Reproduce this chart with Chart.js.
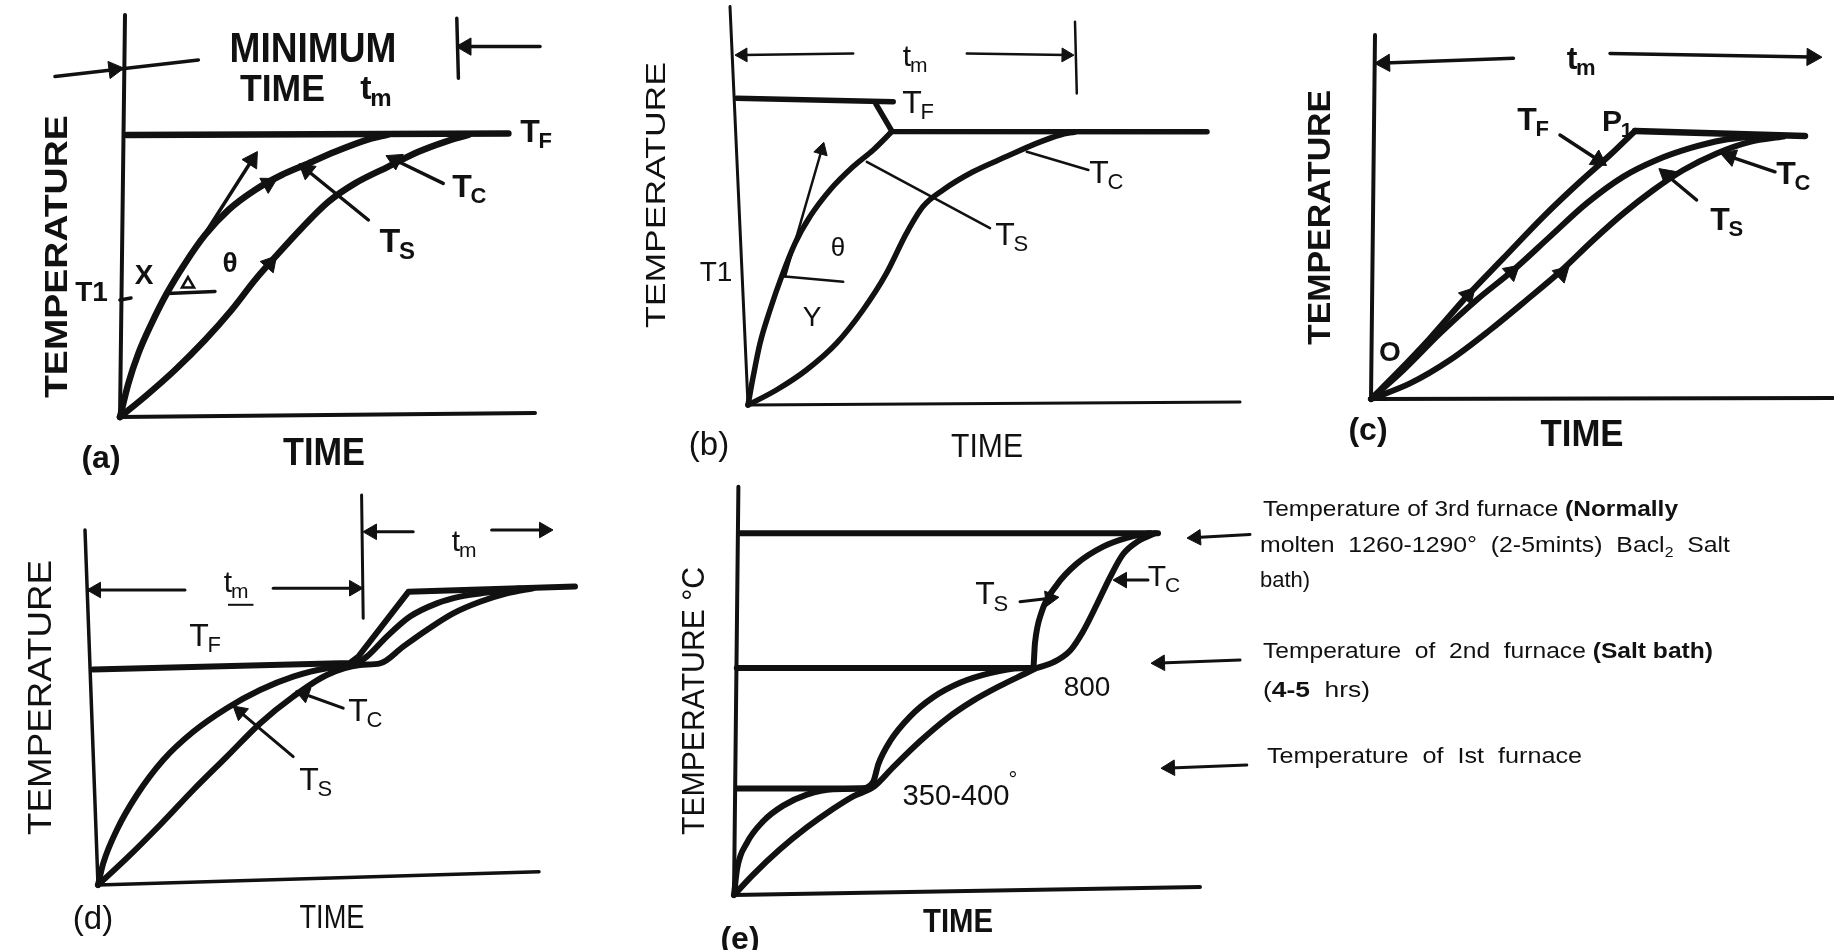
<!DOCTYPE html>
<html>
<head>
<meta charset="utf-8">
<script src="https://cdn.jsdelivr.net/npm/chart.js@4.4.1/dist/chart.umd.min.js"></script>
<style>
  html, body { margin: 0; background: #fff; }
  #sheet { position: relative; width: 1834px; height: 950px; overflow: hidden; background: #fff; }
  #sheet canvas { position: absolute; left: 0; top: 0; }
</style>
</head>
<body>
<div id="sheet"></div>
<script>
// (a) one furnace: surface and core heat up to TF
const aAxes = [[1.25, 100.5], [0, 0], [103.75, 1]];
const aFurnace = [[1.7, 70.5], [97.1, 70.9]];
const aSurface = [[0, 0], [2.1, 8.4], [4.6, 15.9], [7.9, 23.4], [11.7, 30.9], [16.25, 38.4], [21.25, 45.5], [27.1, 51.75], [33.75, 56.75], [40.4, 60.5], [47.1, 63.4], [53.75, 66.3], [62.1, 69.4], [67, 70.6]];
const aCore = [[0, 0], [6.25, 5.1], [13.75, 11.75], [21.25, 19.25], [27.9, 26.75], [33.75, 34.25], [39.6, 40.9], [45.4, 47.2], [52.1, 53.8], [58.75, 58.4], [67.1, 62.6], [74.6, 66.3], [81.25, 68.8], [87.1, 70.5]];
const aArrows = [[[11.7, 30.9], [33, 64.25]], [[62.1, 49.25], [46.7, 61.75]], [[80.8, 58.4], [68.75, 64.25]], [[105, 92.6], [86.5, 92.6]]];
const aGuides = [[[-16.25, 85.1], [19.6, 89.25]], [[84.2, 99.7], [84.6, 84.7]], [[11.7, 30.9], [23.75, 31.4]], [[0, 29.25], [2.75, 29.75]]];
const aHeads = [[37.1, 58.4, 61], [37.5, 38.4, 41], [-1.5, 86.9, 83]];
const aAngleMark = [[17, 33.25]];

// (b) furnace dropped from a higher setting
const bAxes = [[-4.5, 99.6], [0, 0], [123, 0.75]];
const bFurnaceHigh = [[-2.8, 76.7], [36.3, 75.8]];
const bFurnaceLow = [[32, 75.2], [36, 68.4], [114.75, 68.3]];
const bSurface = [[0, 0], [1.3, 7.1], [3, 15.4], [5.5, 23.75], [8.4, 32.1], [11.75, 40.4], [15.5, 47.1], [20.5, 53.75], [26.3, 59.6], [31.3, 63.75], [35.9, 68.3]];
const bCore = [[0, 0], [7.1, 3.75], [14.6, 8.75], [22.1, 15.4], [28.75, 23.75], [34.6, 32.9], [39.6, 42.9], [43.75, 49.6], [48.75, 53.75], [56.25, 58.3], [64.6, 62.1], [72.1, 65.4], [78, 67.5], [81.75, 68.25]];
const bArrows = [[[9.25, 32.1], [18.4, 63.75]], [[26.3, 87.9], [-1.25, 87.5]], [[54.7, 87.9], [79.5, 87.5]]];
const bGuides = [[[9.25, 32.1], [23.8, 30.8]], [[60.5, 44.2], [29.7, 60.8]], [[85.1, 58.75], [69.7, 63.3]], [[81.75, 95.8], [82.2, 77.9]]];

// (c) furnace ramped with the charge
const cAxes = [[1, 91], [0, 0], [115.5, 0.25]];
const cFurnaceRamp = [[0, 0], [6.4, 6.4], [14.75, 15.2], [23.9, 25.6], [33.1, 35.2], [43.1, 45.6], [52.25, 54.3], [59.75, 61], [66, 67]];
const cFurnaceHold = [[66, 67], [108.5, 65.75]];
const cSurface = [[0, 0], [8.1, 7.25], [17.25, 16.4], [26.4, 24.75], [35.6, 32.25], [44.75, 40.6], [53.9, 48.9], [63.1, 55.6], [71.4, 59.75], [79.75, 62.7], [88.1, 64.75], [96.4, 65.75]];
const cCore = [[0, 0], [9.75, 3.9], [19.75, 9.75], [29.75, 17.25], [38.9, 24.75], [47.25, 31.8], [55.6, 39.75], [63.1, 46.4], [70.6, 52.25], [78.1, 57.25], [86.4, 61.4], [94.75, 64.3], [103.1, 65.6]];
const cArrows = [[[47.25, 66], [56.8, 59.75]], [[81.4, 49.75], [73.9, 56]], [[101, 56.8], [89.75, 60.6]], [[35.6, 85.2], [3.4, 84]], [[59.75, 86.4], [110.25, 85.5]]];
const cHeads = [[24.3, 26, 42], [35.2, 31.8, 49], [47.7, 31.4, 46]];

// (d) preheat then second stage
const dAxes = [[-3.25, 88.75], [0, 0], [110.25, 3.3]];
const dFurnace = [[-1.2, 53.9], [63, 55.5], [65, 57], [77.6, 73.3], [119.25, 74.6]];
const dSurface = [[0, 0], [1.3, 5.4], [4.7, 13.75], [9.7, 22.5], [16.3, 31.25], [23.8, 38.3], [32.2, 44.2], [40.5, 48.75], [48.8, 52.1], [57.2, 54.2], [63.8, 55], [67.2, 57.1], [72.2, 62.1], [78, 67.1], [84.7, 70.4], [90.5, 72.1], [97.2, 73.1], [105.5, 74.1]];
const dCore = [[0, 0], [7.2, 6.7], [15.5, 15], [23.8, 23.75], [32.2, 32.1], [40.5, 40.4], [48.8, 47.1], [57.2, 52.5], [65.5, 55], [70.5, 55.4], [76.3, 59.6], [82.2, 63.75], [88.8, 67.9], [95.5, 70.8], [102.2, 72.9], [108.8, 74.2]];
const dArrows = [[[61.3, 44.2], [51.5, 47.75]], [[48.8, 32.1], [35.5, 43.3]], [[21.75, 73.75], [-0.5, 73.75]], [[43.8, 74.2], [64, 74.2]], [[78.8, 88.3], [68.5, 88.3]], [[98.4, 88.75], [111.5, 88.75]]];
const dGuides = [[[65.9, 97.5], [66.3, 66.7]]];

// (e) three furnaces, temperature in °C
const eAxes = [[1.1, 1439], [0, 0], [116.5, 28]];
const eFurnace1 = [[0.7, 375], [34, 375]];
const eFurnace2 = [[0.7, 800], [74.8, 800]];
const eFurnace3 = [[1.5, 1275], [106, 1275]];
const eSurface = [[0, 0], [0.8, 94], [3.2, 183], [7.3, 260], [12.3, 315], [18.2, 354], [24.8, 373], [31.5, 375], [34.8, 399], [36.1, 462], [39, 542], [44, 629], [49.8, 697], [56.5, 748], [64, 782], [71.5, 799], [74.8, 800], [75.25, 889], [76.9, 997], [80.7, 1093], [85.7, 1168], [92.3, 1228], [98.2, 1259], [104, 1275]];
const eCore = [[0, 0], [4.8, 72], [11.5, 161], [18.2, 238], [24.8, 304], [29.8, 348], [34.8, 380], [39.8, 451], [46.5, 542], [53.2, 622], [59.8, 685], [66.5, 737], [72.3, 777], [75.7, 800], [79.8, 820], [84, 861], [87.3, 930], [90.7, 1024], [94, 1120], [97.3, 1202], [101, 1247], [105.25, 1275]];
const eArrows = [[[71.5, 1034], [79, 1046]], [[103.5, 1110], [97, 1110]], [[129, 1271], [115.5, 1260]], [[126.5, 828], [106.5, 818]], [[128.2, 458], [109, 448]]];

const aText = [
  {text: 'MINIMUM', x: 48.25, y: 92.5, size: 42, bold: 1, w: 167},
  {text: 'TIME', x: 40.6, y: 82.25, size: 36, bold: 1, w: 85},
  {text: 't', sub: 'm', x: 61.5, y: 82.5, size: 34, bold: 1},
  {text: 'T', sub: 'F', x: 102.5, y: 71.75, size: 32, bold: 1},
  {text: 'T', sub: 'S', x: 67.5, y: 44.25, size: 34, bold: 1},
  {text: 'T', sub: 'C', x: 85.5, y: 58, size: 32, bold: 1},
  {text: 'θ', x: 27.5, y: 38.75, size: 28, bold: 1},
  {text: 'X', x: 6, y: 35.75, size: 28, bold: 1},
  {text: 'T1', x: -7.1, y: 31.5, size: 28, bold: 1},
  {text: 'TEMPERATURE', x: -16.25, y: 40.1, size: 32, bold: 1, w: 283, rot: -90},
  {text: 'TIME', x: 51, y: -8.5, size: 38, bold: 1, w: 82},
  {text: '(a)', x: -4.75, y: -9.75, size: 32, bold: 1}
];
const bText = [
  {text: 't', sub: 'm', x: 39.75, y: 87.5, size: 30},
  {text: 'T', sub: 'F', x: 41, y: 76, size: 32},
  {text: 'T', sub: 'S', x: 64.25, y: 43, size: 32},
  {text: 'T', sub: 'C', x: 87.75, y: 58.5, size: 32},
  {text: 'θ', x: 22.5, y: 39.5, size: 26},
  {text: 'Y', x: 16, y: 22.25, size: 28},
  {text: 'T1', x: -8, y: 33.5, size: 28},
  {text: 'TEMPERATURE', x: -23.25, y: 52.5, size: 28, w: 266, rot: -90},
  {text: 'TIME', x: 59.75, y: -10, size: 33, w: 72},
  {text: '(b)', x: -9.75, y: -9.5, size: 33}
];
const cText = [
  {text: 't', sub: 'm', x: 50.25, y: 85.5, size: 32, bold: 1},
  {text: 'T', sub: 'F', x: 39, y: 70.25, size: 32, bold: 1},
  {text: 'P', sub: '1', x: 60.25, y: 69.75, size: 30, bold: 1},
  {text: 'T', sub: 'S', x: 87.25, y: 45.25, size: 32, bold: 1},
  {text: 'T', sub: 'C', x: 103.75, y: 56.75, size: 32, bold: 1},
  {text: 'O', x: 4.75, y: 12, size: 28, bold: 1},
  {text: 'TEMPERATURE', x: -13.1, y: 45.4, size: 32, bold: 1, w: 255, rot: -90},
  {text: 'TIME', x: 52.75, y: -8.5, size: 37, bold: 1, w: 83},
  {text: '(c)', x: -0.75, y: -7.25, size: 32, bold: 1}
];
const dText = [
  {text: 't', sub: 'm', x: 32.5, y: 76, size: 30, under: 1},
  {text: 't', sub: 'm', x: 89.5, y: 86.25, size: 30},
  {text: 'T', sub: 'F', x: 25.25, y: 62.75, size: 32},
  {text: 'T', sub: 'C', x: 65, y: 44, size: 32},
  {text: 'T', sub: 'S', x: 52.75, y: 26.75, size: 32},
  {text: 'TEMPERATURE', x: -14.75, y: 46.9, size: 33, w: 275, rot: -90},
  {text: 'TIME', x: 58.5, y: -7.75, size: 33, w: 65},
  {text: '(d)', x: -1.25, y: -8, size: 33}
];
const eText = [
  {text: 'T', sub: 'S', x: 62.75, y: 1065, size: 32},
  {text: 'T', sub: 'C', x: 105.75, y: 1127, size: 30},
  {text: '800', x: 88.25, y: 738, size: 28},
  {text: '350-400', x: 55.5, y: 353, size: 29, w: 107},
  {text: '°', x: 69.75, y: 409, size: 22},
  {text: 'TEMPERATURE °C', x: -10.5, y: 684, size: 32, w: 268, rot: -90},
  {text: 'TIME', x: 56, y: -88, size: 34, bold: 1, w: 70},
  {text: '(e)', x: 1.5, y: -148, size: 32, bold: 1},
  {parts: [['Temperature of 3rd furnace ', 0], ['(Normally', 1]], x: 132.25, y: 1336, size: 22, w: 415, left: 1},
  {parts: [['molten  1260-1290°  (2-5mints)  Bacl', 0], ['2', 0, 1], ['  Salt', 0]], x: 131.5, y: 1210, size: 22, w: 470, left: 1},
  {parts: [['bath)', 0]], x: 131.5, y: 1087, size: 22, left: 1},
  {parts: [['Temperature  of  2nd  furnace ', 0], ['(Salt bath)', 1]], x: 132.25, y: 834, size: 22, w: 450, left: 1},
  {parts: [['(', 0], ['4-5', 1], ['  hrs)', 0]], x: 132.25, y: 699, size: 22, w: 107, left: 1},
  {parts: [['Temperature  of  Ist  furnace', 0]], x: 133.25, y: 464, size: 22, w: 315, left: 1}
];

const W = 1834, H = 950;
const INK = '#111';
const FONT = '"Liberation Sans", Arial, Helvetica, sans-serif';
const font = (size, bold) => `${bold ? 'bold ' : ''}${size}px ${FONT}`;

const panels = [
  {origin: [120, 417], scale: [4, 4], xr: [-20, 110], yr: [0, 95], labels: aText,
    style: {axis: 4, curve: 6.5, hold: 6.5, thin: 3.5, head: 10},
    sets: [[aAxes, 'axis'], [aFurnace, 'hold'], [aSurface, 'curve'], [aCore, 'curve'],
      ...aArrows.map(l => [l, 'arrow']), ...aGuides.map(l => [l, 'guide']), [aHeads, 'head'], [aAngleMark, 'hollow']]},
  {origin: [748, 405], scale: [4, 4], xr: [-10, 125], yr: [0, 95], labels: bText,
    style: {axis: 3, curve: 5.5, hold: 5.5, thin: 2.5, head: 8},
    sets: [[bAxes, 'axis'], [bFurnaceHigh, 'hold'], [bFurnaceLow, 'hold'], [bSurface, 'curve'], [bCore, 'curve'],
      ...bArrows.map(l => [l, 'arrow']), ...bGuides.map(l => [l, 'guide'])]},
  {origin: [1371, 399], scale: [4, 4], xr: [-10, 115.5], yr: [0, 95], labels: cText,
    style: {axis: 4, curve: 6, hold: 6.5, thin: 3.5, head: 10},
    sets: [[cAxes, 'axis'], [cFurnaceRamp, 'curve'], [cFurnaceHold, 'hold'], [cSurface, 'curve'], [cCore, 'curve'],
      ...cArrows.map(l => [l, 'arrow']), [cHeads, 'head']]},
  {origin: [98, 885], scale: [4, 4], xr: [-10, 125], yr: [0, 95], labels: dText,
    style: {axis: 3.5, curve: 6, hold: 6, thin: 3, head: 9},
    sets: [[dAxes, 'axis'], [dFurnace, 'hold'], [dSurface, 'curve'], [dCore, 'curve'],
      ...dArrows.map(l => [l, 'arrow']), ...dGuides.map(l => [l, 'guide'])]},
  {origin: [734, 895], scale: [4, 1 / 3.525], xr: [-10, 135], yr: [0, 1400], labels: eText,
    style: {axis: 4, curve: 6, hold: 6, thin: 3, head: 9},
    sets: [[eAxes, 'axis'], [eFurnace1, 'hold'], [eFurnace2, 'hold'], [eFurnace3, 'hold'], [eSurface, 'curve'], [eCore, 'curve'],
      ...eArrows.map(l => [l, 'arrow'])]}
];

function headAngle(c) {
  const d = c.dataset.data, n = d.length;
  const {x, y} = c.chart.scales;
  const dx = x.getPixelForValue(d[n - 1].x) - x.getPixelForValue(d[n - 2].x);
  const dy = y.getPixelForValue(d[n - 1].y) - y.getPixelForValue(d[n - 2].y);
  return Math.atan2(dx, -dy) * 180 / Math.PI;
}

function dataset(points, kind, st) {
  const data = points.map(([x, y]) => ({x, y}));
  const base = {
    data, borderColor: INK, backgroundColor: INK, pointBackgroundColor: INK, pointBorderColor: INK,
    clip: false, tension: 0, pointRadius: 0, borderCapStyle: 'round', borderJoinStyle: 'round'
  };
  switch (kind) {
    case 'curve': return {...base, borderWidth: st.curve, cubicInterpolationMode: 'monotone', capBezierPoints: false};
    case 'axis': return {...base, borderWidth: st.axis};
    case 'hold': return {...base, borderWidth: st.hold};
    case 'guide': return {...base, borderWidth: st.thin};
    case 'arrow':
      return {...base, borderWidth: st.thin, pointStyle: 'triangle', pointBorderWidth: 1,
        pointRadius: c => (c.dataIndex === data.length - 1 ? st.head : 0), pointRotation: headAngle};
    case 'head':
      return {...base, showLine: false, pointStyle: 'triangle', pointBorderWidth: 1,
        pointRadius: st.head, pointRotation: c => points[c.dataIndex][2]};
    default:
      return {...base, showLine: false, pointStyle: 'triangle', pointRadius: 7,
        pointBackgroundColor: '#fff', pointBorderWidth: 2.5};
  }
}

function drawLabels(chart, items) {
  const {ctx} = chart, {x, y} = chart.scales;
  items.forEach(L => {
    ctx.save();
    ctx.translate(x.getPixelForValue(L.x), y.getPixelForValue(L.y));
    if (L.rot) ctx.rotate(L.rot * Math.PI / 180);
    ctx.fillStyle = INK;
    ctx.textAlign = 'left';
    ctx.textBaseline = 'alphabetic';
    const mid = L.left ? 0 : L.size * 0.36;
    if (L.sub) {
      ctx.font = font(L.size, L.bold);
      const w = ctx.measureText(L.text).width;
      ctx.fillText(L.text, -w / 2, mid);
      const s = Math.round(L.size * 0.7), sx = w / 2 - L.size * 0.04, sy = mid + L.size * 0.2;
      ctx.font = font(s, L.bold);
      const sw = ctx.measureText(L.sub).width;
      ctx.fillText(L.sub, sx, sy);
      if (L.under) ctx.fillRect(sx - 3, sy + 6, sw + 8, 2);
    } else {
      const parts = L.parts || [[L.text, L.bold]];
      const sizeOf = p => (p[2] ? Math.round(L.size * 0.65) : L.size);
      const widths = parts.map(p => { ctx.font = font(sizeOf(p), p[1]); return ctx.measureText(p[0]).width; });
      const total = widths.reduce((a, b) => a + b, 0);
      if (L.w) ctx.scale(L.w / total, 1);
      let cx = L.left ? 0 : -total / 2;
      parts.forEach((p, i) => {
        ctx.font = font(sizeOf(p), p[1]);
        ctx.fillText(p[0], cx, mid + (p[2] ? L.size * 0.25 : 0));
        cx += widths[i];
      });
    }
    ctx.restore();
  });
}

const sheet = document.getElementById('sheet');
panels.forEach(p => {
  const canvas = document.createElement('canvas');
  canvas.width = W;
  canvas.height = H;
  sheet.appendChild(canvas);
  const [ox, oy] = p.origin, [kx, ky] = p.scale;
  const left = ox + kx * p.xr[0], right = ox + kx * p.xr[1];
  const top = oy - ky * p.yr[1], bottom = oy - ky * p.yr[0];
  new Chart(canvas, {
    type: 'line',
    data: {datasets: p.sets.map(([pts, kind]) => dataset(pts, kind, p.style))},
    options: {
      responsive: false,
      animation: false,
      events: [],
      layout: {autoPadding: false, padding: {left, top, right: W - right, bottom: H - bottom}},
      scales: {
        x: {type: 'linear', display: false, min: p.xr[0], max: p.xr[1]},
        y: {type: 'linear', display: false, min: p.yr[0], max: p.yr[1]}
      },
      plugins: {legend: {display: false}, tooltip: {enabled: false}}
    },
    plugins: [{id: 'panelText', afterDatasetsDraw: c => drawLabels(c, p.labels)}]
  });
});
</script>
</body>
</html>
